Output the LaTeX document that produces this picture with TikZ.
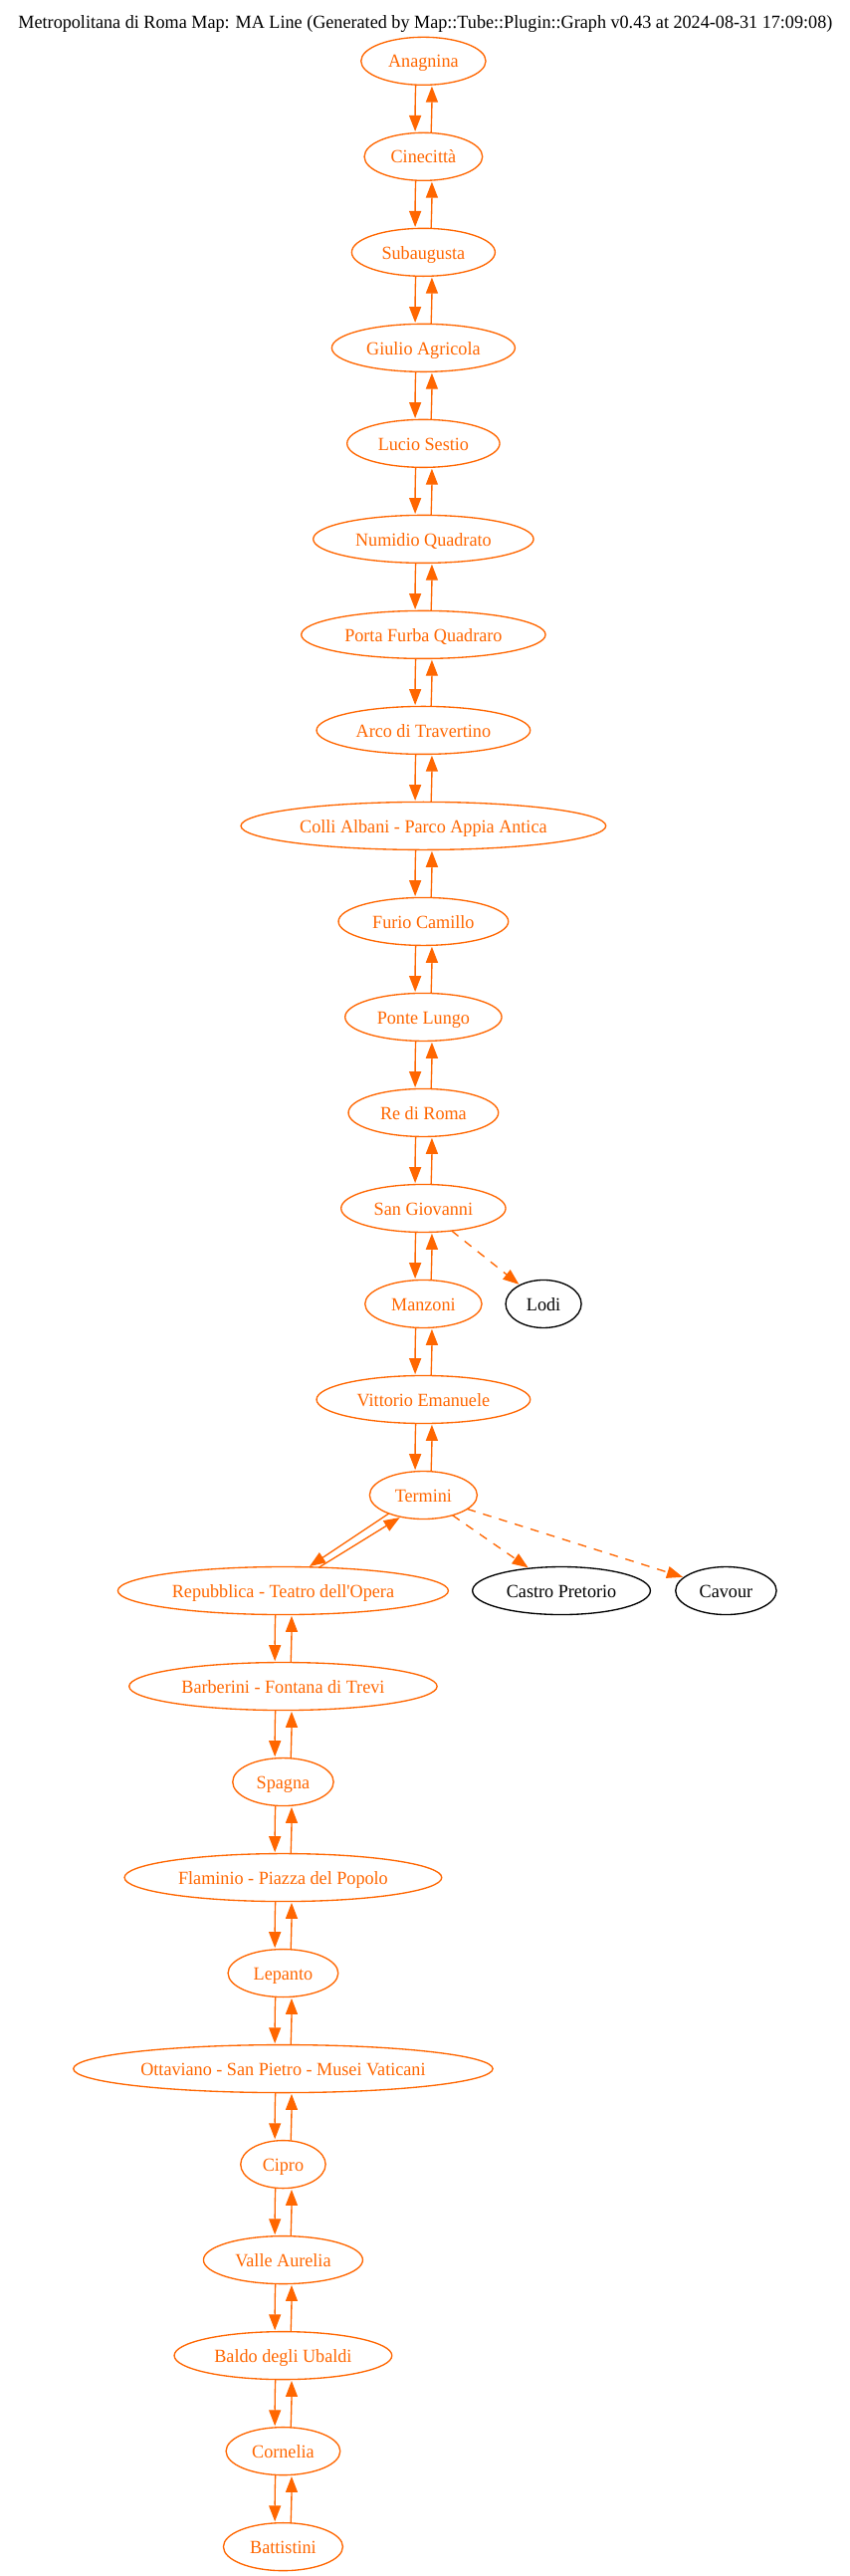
\documentclass[tikz,border=0pt]{standalone}
\usepackage{fontspec}
\newfontfamily\mapfont{Liberation Serif}[FakeStretch=0.972]
\usetikzlibrary{arrows.meta,shapes.geometric}
\definecolor{lineorange}{HTML}{FF6600}
\tikzset{
  station/.style={draw=lineorange, text=lineorange, ellipse, line width=1bp, inner xsep=-5bp, inner ysep=0pt, outer sep=0pt, minimum height=36bp, text height=13bp, text depth=3bp, font=\mapfont\fontsize{14bp}{16bp}\selectfont},
  transfer/.style={station, draw=black, text=black},
  headline/.style={inner sep=0pt, text height=11.5bp, text depth=3bp, font=\mapfont\fontsize{14bp}{16bp}\selectfont},
  run/.style={draw=lineorange, line width=1bp, -{Triangle[length=12bp,width=9bp]}, shorten >=1bp},
  change/.style={run, dash pattern=on 6.5bp off 6bp}
}
\begin{document}
\begin{tikzpicture}[x=1bp, y=1bp]
  \useasboundingbox (0, 0) rectangle (640, 1940);
  \node[headline] (title) at (320.5, 1922.5) {Metropolitana di Roma Map: MA Line (Generated by Map::Tube::Plugin::Graph v0.43 at 2024-08-31 17:09:08)};

  \node[station, minimum width=94bp] (anagnina) at (319, 1894) {Anagnina};
  \node[station, minimum width=89bp] (cinecitta) at (319, 1822) {Cinecittà};
  \node[station, minimum width=108bp] (subaugusta) at (319, 1750) {Subaugusta};
  \node[station, minimum width=138bp] (agricola) at (319, 1678) {Giulio Agricola};
  \node[station, minimum width=115bp] (sestio) at (319, 1606) {Lucio Sestio};
  \node[station, minimum width=166bp] (numidio) at (319, 1534) {Numidio Quadrato};
  \node[station, minimum width=184bp] (furba) at (319, 1462) {Porta Furba Quadraro};
  \node[station, minimum width=161bp] (travertino) at (319, 1390) {Arco di Travertino};
  \node[station, minimum width=275bp] (albani) at (319, 1318) {Colli Albani - Parco Appia Antica};
  \node[station, minimum width=128bp] (camillo) at (319, 1246) {Furio Camillo};
  \node[station, minimum width=118bp] (lungo) at (319, 1174) {Ponte Lungo};
  \node[station, minimum width=113bp] (reroma) at (319, 1102) {Re di Roma};
  \node[station, minimum width=124bp] (giovanni) at (319, 1030) {San Giovanni};
  \node[station, minimum width=88bp] (manzoni) at (319, 958) {Manzoni};
  \node[station, minimum width=161bp] (emanuele) at (319, 886) {Vittorio Emanuele};
  \node[station, minimum width=81bp] (termini) at (319, 814) {Termini};
  \node[station, minimum width=249bp] (repubblica) at (213.3, 742) {Repubblica - Teatro dell'Opera};
  \node[station, minimum width=232bp] (barberini) at (213.3, 670) {Barberini - Fontana di Trevi};
  \node[station, minimum width=76bp] (spagna) at (213.3, 598) {Spagna};
  \node[station, minimum width=239bp] (flaminio) at (213.3, 526) {Flaminio - Piazza del Popolo};
  \node[station, minimum width=83bp] (lepanto) at (213.3, 454) {Lepanto};
  \node[station, minimum width=316bp] (ottaviano) at (213.3, 382) {Ottaviano - San Pietro - Musei Vaticani};
  \node[station, minimum width=64bp] (cipro) at (213.3, 310) {Cipro};
  \node[station, minimum width=120bp] (valle) at (213.3, 238) {Valle Aurelia};
  \node[station, minimum width=164bp] (baldo) at (213.3, 166) {Baldo degli Ubaldi};
  \node[station, minimum width=86bp] (cornelia) at (213.3, 94) {Cornelia};
  \node[station, minimum width=90bp] (battistini) at (213.3, 22) {Battistini};

  \node[transfer, minimum width=57bp] (lodi) at (409.5, 958) {Lodi};
  \node[transfer, minimum width=134bp] (castro) at (423, 742) {Castro Pretorio};
  \node[transfer, minimum width=76bp] (cavour) at (547, 742) {Cavour};

  \draw[run] ([xshift=-5.8bp]anagnina.south) to[out=268, in=90] ([xshift=-6.2bp]cinecitta.north);
  \draw[run] ([xshift=5.8bp]cinecitta.north) to[out=88, in=270] ([xshift=6.4bp]anagnina.south);
  \draw[run] ([xshift=-5.8bp]cinecitta.south) to[out=268, in=90] ([xshift=-6.2bp]subaugusta.north);
  \draw[run] ([xshift=5.8bp]subaugusta.north) to[out=88, in=270] ([xshift=6.4bp]cinecitta.south);
  \draw[run] ([xshift=-5.8bp]subaugusta.south) to[out=268, in=90] ([xshift=-6.2bp]agricola.north);
  \draw[run] ([xshift=5.8bp]agricola.north) to[out=88, in=270] ([xshift=6.4bp]subaugusta.south);
  \draw[run] ([xshift=-5.8bp]agricola.south) to[out=268, in=90] ([xshift=-6.2bp]sestio.north);
  \draw[run] ([xshift=5.8bp]sestio.north) to[out=88, in=270] ([xshift=6.4bp]agricola.south);
  \draw[run] ([xshift=-5.8bp]sestio.south) to[out=268, in=90] ([xshift=-6.2bp]numidio.north);
  \draw[run] ([xshift=5.8bp]numidio.north) to[out=88, in=270] ([xshift=6.4bp]sestio.south);
  \draw[run] ([xshift=-5.8bp]numidio.south) to[out=268, in=90] ([xshift=-6.2bp]furba.north);
  \draw[run] ([xshift=5.8bp]furba.north) to[out=88, in=270] ([xshift=6.4bp]numidio.south);
  \draw[run] ([xshift=-5.8bp]furba.south) to[out=268, in=90] ([xshift=-6.2bp]travertino.north);
  \draw[run] ([xshift=5.8bp]travertino.north) to[out=88, in=270] ([xshift=6.4bp]furba.south);
  \draw[run] ([xshift=-5.8bp]travertino.south) to[out=268, in=90] ([xshift=-6.2bp]albani.north);
  \draw[run] ([xshift=5.8bp]albani.north) to[out=88, in=270] ([xshift=6.4bp]travertino.south);
  \draw[run] ([xshift=-5.8bp]albani.south) to[out=268, in=90] ([xshift=-6.2bp]camillo.north);
  \draw[run] ([xshift=5.8bp]camillo.north) to[out=88, in=270] ([xshift=6.4bp]albani.south);
  \draw[run] ([xshift=-5.8bp]camillo.south) to[out=268, in=90] ([xshift=-6.2bp]lungo.north);
  \draw[run] ([xshift=5.8bp]lungo.north) to[out=88, in=270] ([xshift=6.4bp]camillo.south);
  \draw[run] ([xshift=-5.8bp]lungo.south) to[out=268, in=90] ([xshift=-6.2bp]reroma.north);
  \draw[run] ([xshift=5.8bp]reroma.north) to[out=88, in=270] ([xshift=6.4bp]lungo.south);
  \draw[run] ([xshift=-5.8bp]reroma.south) to[out=268, in=90] ([xshift=-6.2bp]giovanni.north);
  \draw[run] ([xshift=5.8bp]giovanni.north) to[out=88, in=270] ([xshift=6.4bp]reroma.south);
  \draw[run] ([xshift=-5.8bp]giovanni.south) to[out=268, in=90] ([xshift=-6.2bp]manzoni.north);
  \draw[run] ([xshift=5.8bp]manzoni.north) to[out=88, in=270] ([xshift=6.4bp]giovanni.south);
  \draw[run] ([xshift=-5.8bp]manzoni.south) to[out=268, in=90] ([xshift=-6.2bp]emanuele.north);
  \draw[run] ([xshift=5.8bp]emanuele.north) to[out=88, in=270] ([xshift=6.4bp]manzoni.south);
  \draw[run] ([xshift=-5.8bp]emanuele.south) to[out=268, in=90] ([xshift=-6.2bp]termini.north);
  \draw[run] ([xshift=5.8bp]termini.north) to[out=88, in=270] ([xshift=6.4bp]emanuele.south);
  \draw[run] (termini.208) -- (repubblica.43);
  \draw[run] (repubblica.33) -- (termini.224);
  \draw[run] ([xshift=-5.8bp]repubblica.south) to[out=268, in=90] ([xshift=-6.2bp]barberini.north);
  \draw[run] ([xshift=5.8bp]barberini.north) to[out=88, in=270] ([xshift=6.4bp]repubblica.south);
  \draw[run] ([xshift=-5.8bp]barberini.south) to[out=268, in=90] ([xshift=-6.2bp]spagna.north);
  \draw[run] ([xshift=5.8bp]spagna.north) to[out=88, in=270] ([xshift=6.4bp]barberini.south);
  \draw[run] ([xshift=-5.8bp]spagna.south) to[out=268, in=90] ([xshift=-6.2bp]flaminio.north);
  \draw[run] ([xshift=5.8bp]flaminio.north) to[out=88, in=270] ([xshift=6.4bp]spagna.south);
  \draw[run] ([xshift=-5.8bp]flaminio.south) to[out=268, in=90] ([xshift=-6.2bp]lepanto.north);
  \draw[run] ([xshift=5.8bp]lepanto.north) to[out=88, in=270] ([xshift=6.4bp]flaminio.south);
  \draw[run] ([xshift=-5.8bp]lepanto.south) to[out=268, in=90] ([xshift=-6.2bp]ottaviano.north);
  \draw[run] ([xshift=5.8bp]ottaviano.north) to[out=88, in=270] ([xshift=6.4bp]lepanto.south);
  \draw[run] ([xshift=-5.8bp]ottaviano.south) to[out=268, in=90] ([xshift=-6.2bp]cipro.north);
  \draw[run] ([xshift=5.8bp]cipro.north) to[out=88, in=270] ([xshift=6.4bp]ottaviano.south);
  \draw[run] ([xshift=-5.8bp]cipro.south) to[out=268, in=90] ([xshift=-6.2bp]valle.north);
  \draw[run] ([xshift=5.8bp]valle.north) to[out=88, in=270] ([xshift=6.4bp]cipro.south);
  \draw[run] ([xshift=-5.8bp]valle.south) to[out=268, in=90] ([xshift=-6.2bp]baldo.north);
  \draw[run] ([xshift=5.8bp]baldo.north) to[out=88, in=270] ([xshift=6.4bp]valle.south);
  \draw[run] ([xshift=-5.8bp]baldo.south) to[out=268, in=90] ([xshift=-6.2bp]cornelia.north);
  \draw[run] ([xshift=5.8bp]cornelia.north) to[out=88, in=270] ([xshift=6.4bp]baldo.south);
  \draw[run] ([xshift=-5.8bp]cornelia.south) to[out=268, in=90] ([xshift=-6.2bp]battistini.north);
  \draw[run] ([xshift=5.8bp]battistini.north) to[out=88, in=270] ([xshift=6.4bp]cornelia.south);

  \draw[change] (giovanni) -- (lodi);
  \draw[change] (termini) -- (castro);
  \draw[change] (termini) -- (cavour);
\end{tikzpicture}
\end{document}
